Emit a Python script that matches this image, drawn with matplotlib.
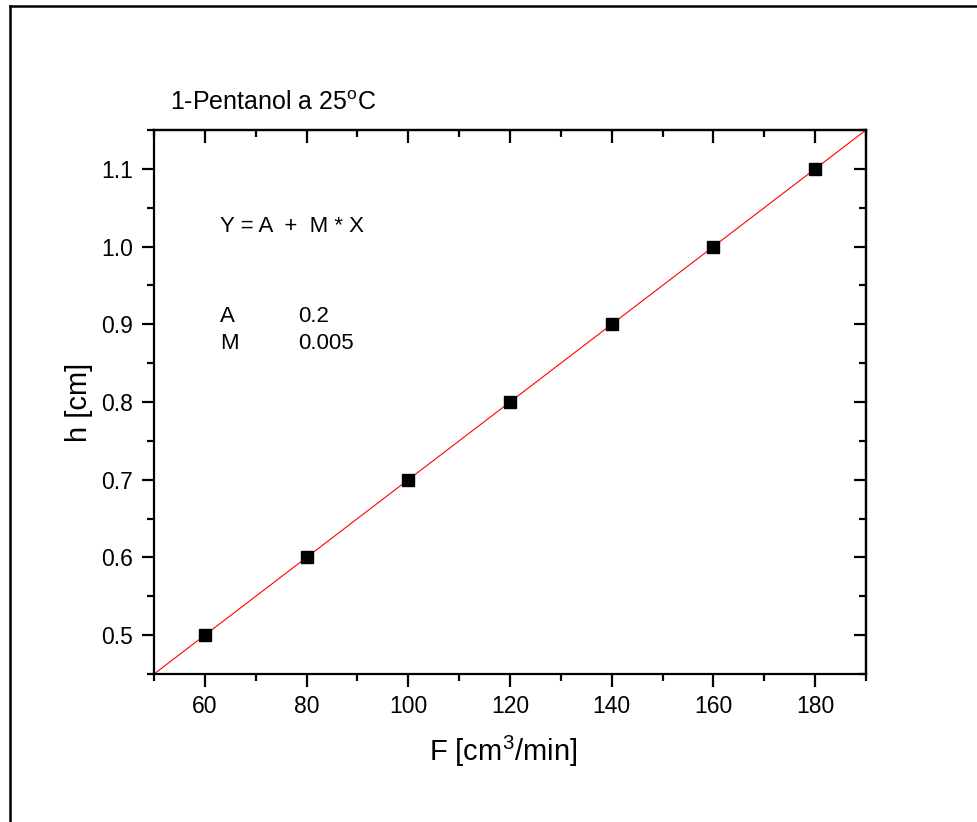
import numpy as np
import matplotlib
matplotlib.use("Agg")
import matplotlib.pyplot as plt
from matplotlib.lines import Line2D
from matplotlib.ticker import MultipleLocator, FormatStrFormatter

plt.rcParams["font.family"] = ["Liberation Sans", "DejaVu Sans"]
plt.rcParams["mathtext.fontset"] = "custom"
plt.rcParams["mathtext.rm"] = "Liberation Sans"
plt.rcParams["mathtext.it"] = "Liberation Sans:italic"

# flow rate vs. height, 1-pentanol at 25 C
flow = [60, 80, 100, 120, 140, 160, 180]
height = [0.5, 0.6, 0.7, 0.8, 0.9, 1.0, 1.1]

# linear fit parameters
A = 0.2
M = 0.005

W, H = 977, 822
fig = plt.figure(figsize=(W / 100, H / 100), dpi=100)
ax = fig.add_axes([154 / W, 1 - 674 / H, (866 - 154) / W, (674 - 130) / H])


def fx(px):
    return px / W


def fy(py):
    return 1 - py / H


xfit = np.array([50, 190])
ax.plot(xfit, A + M * xfit, color="red", lw=0.8, zorder=2)
ax.plot(flow, height, ls="none", marker="s", ms=8.5, color="black", zorder=3)

ax.set_xlim(50, 190)
ax.set_ylim(0.45, 1.15)
ax.xaxis.set_major_locator(MultipleLocator(20))
ax.xaxis.set_minor_locator(MultipleLocator(10))
ax.yaxis.set_major_locator(MultipleLocator(0.1))
ax.yaxis.set_minor_locator(MultipleLocator(0.05))
ax.yaxis.set_major_formatter(FormatStrFormatter("%.1f"))

for s in ax.spines.values():
    s.set_linewidth(1.6)
ax.tick_params(which="both", direction="out", width=1.6, labelsize=16.5,
               top=False, right=False)
ax.tick_params(which="major", length=9, pad=6)
ax.tick_params(which="minor", length=5)

# inward ticks on top and right spines
sec_x = ax.secondary_xaxis("top")
sec_x.xaxis.set_major_locator(MultipleLocator(20))
sec_x.xaxis.set_minor_locator(MultipleLocator(10))
sec_x.tick_params(which="both", direction="in", width=1.6, labeltop=False)
sec_x.tick_params(which="major", length=9)
sec_x.tick_params(which="minor", length=5)
sec_x.spines["top"].set_linewidth(1.6)
sec_y = ax.secondary_yaxis("right")
sec_y.yaxis.set_major_locator(MultipleLocator(0.1))
sec_y.yaxis.set_minor_locator(MultipleLocator(0.05))
sec_y.tick_params(which="both", direction="in", width=1.6, labelright=False)
sec_y.tick_params(which="major", length=9)
sec_y.tick_params(which="minor", length=5)
sec_y.spines["right"].set_linewidth(1.6)

ax.set_xlabel("F [cm$^3$/min]", fontsize=21, labelpad=14)
ax.set_ylabel("h [cm]", fontsize=21, labelpad=6)
ax.xaxis.set_label_coords(0.49, -0.11)

fig.text(fx(170), fy(110), "1-Pentanol a 25$^\\mathrm{o}$C", fontsize=18,
         ha="left", va="baseline")
fig.text(fx(220), fy(226), "Y = A  +  M * X", fontsize=16,
         ha="left", va="center")
fig.text(fx(220), fy(316), "A", fontsize=16, ha="left", va="center")
fig.text(fx(298), fy(316), f"{A}", fontsize=16, ha="left", va="center")
fig.text(fx(220), fy(343), "M", fontsize=16, ha="left", va="center")
fig.text(fx(298), fy(343), f"{M}", fontsize=16, ha="left", va="center")

# page frame
fig.add_artist(Line2D([fx(10), 1.01], [fy(6), fy(6)], color="black",
                      lw=1.8, transform=fig.transFigure, clip_on=False))
fig.add_artist(Line2D([fx(10), fx(10)], [fy(6), -0.01], color="black",
                      lw=1.8, transform=fig.transFigure, clip_on=False))

fig.savefig("out.png", dpi=100)
